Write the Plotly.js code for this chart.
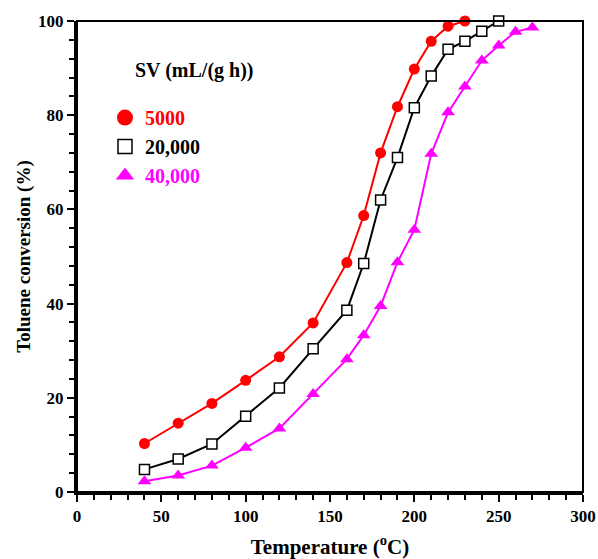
<!DOCTYPE html>
<html>
<head>
<meta charset="utf-8">
<script src="https://cdn.plot.ly/plotly-3.0.1.min.js"></script>
<style>html,body{margin:0;padding:0;background:#fff;}#chart{width:598px;height:559px;}</style>
</head>
<body>
<div id="chart"></div>
<script>
const tempSV5000 = [40, 60, 80, 100, 120, 140, 160, 170, 180, 190, 200, 210, 220, 230];
const convSV5000 = [10.3, 14.6, 18.8, 23.7, 28.7, 35.9, 48.7, 58.7, 72.0, 81.8, 89.8, 95.7, 98.9, 100];
const tempSV20000 = [40, 60, 80, 100, 120, 140, 160, 170, 180, 190, 200, 210, 220, 230, 240, 250];
const convSV20000 = [4.8, 7.0, 10.2, 16.1, 22.1, 30.4, 38.6, 48.5, 62.0, 71.0, 81.6, 88.3, 94.0, 95.7, 97.8, 100];
const tempSV40000 = [40, 60, 80, 100, 120, 140, 160, 170, 180, 190, 200, 210, 220, 230, 240, 250, 260, 270];
const convSV40000 = [2.3, 3.5, 5.6, 9.4, 13.5, 20.8, 28.2, 33.3, 39.5, 48.8, 55.7, 71.8, 80.6, 86.1, 91.6, 94.8, 97.7, 98.6];
const seriesNames = ['5000', '20,000', '40,000'];
const legendTitle = 'SV (mL/(g h))';
const xTitle = 'Temperature (<sup>o</sup>C)';
const yTitle = 'Toluene conversion (%)';

const FONT = 'Times New Roman, Liberation Serif, serif';
const RED = '#FF0000', BLACK = '#000000', MAG = '#FF00FF';

const traces = [
  {x: tempSV5000, y: convSV5000, mode: 'lines+markers', showlegend: false, cliponaxis: false,
   line: {color: RED, width: 2}, marker: {symbol: 'circle', size: 11, color: RED}},
  {x: tempSV20000, y: convSV20000, mode: 'lines+markers', showlegend: false, cliponaxis: false,
   line: {color: BLACK, width: 2}, marker: {symbol: 'square', size: 10, color: '#FFFFFF', line: {color: BLACK, width: 1.5}}},
  {x: tempSV40000, y: convSV40000, mode: 'lines+markers', showlegend: false, cliponaxis: false,
   line: {color: MAG, width: 2}, marker: {symbol: 'triangle-up', size: 12, color: MAG}},
  // legend entries
  {x: [null], y: [null], mode: 'markers', name: '<span style="color:' + RED + '">' + seriesNames[0] + '</span>', legendgroup: 'a',
   marker: {symbol: 'circle', size: 16, color: RED}},
  {x: [null], y: [null], mode: 'markers', name: '<span style="color:' + BLACK + '">' + seriesNames[1] + '</span>', legendgroup: 'b',
   marker: {symbol: 'square', size: 14, color: '#FFFFFF', line: {color: BLACK, width: 1.5}}},
  {x: [null], y: [null], mode: 'markers', name: '<span style="color:' + MAG + '">' + seriesNames[2] + '</span>', legendgroup: 'c',
   marker: {symbol: 'triangle-up', size: 17, color: MAG}}
];

const axisCommon = {
  showline: true, linewidth: 3, linecolor: BLACK, zeroline: false, showgrid: false,
  ticks: 'outside', ticklen: 7, tickwidth: 2, tickcolor: BLACK,
  tickfont: {family: FONT, size: 17, weight: 'bold', color: BLACK}
};

const layout = {
  width: 598, height: 559,
  margin: {l: 77, r: 15, t: 21, b: 67},
  paper_bgcolor: '#FFFFFF', plot_bgcolor: '#FFFFFF',
  font: {family: FONT, color: BLACK},
  xaxis: Object.assign({}, axisCommon, {
    range: [0, 300], tick0: 0, dtick: 50,
    minor: {dtick: 10, ticks: 'outside', ticklen: 5, tickwidth: 2, tickcolor: BLACK, showgrid: false},
    title: {text: xTitle, font: {family: FONT, size: 21, weight: 'bold', color: BLACK}, standoff: 16}
  }),
  yaxis: Object.assign({}, axisCommon, {
    range: [0, 100], tick0: 0, dtick: 20,
    minor: {dtick: 4, ticks: 'outside', ticklen: 5, tickwidth: 2, tickcolor: BLACK, showgrid: false},
    title: {text: yTitle, font: {family: FONT, size: 19, weight: 'bold', color: BLACK}, standoff: 3}
  }),
  showlegend: true,
  legend: {
    x: 0.0553, y: 0.8364, xanchor: 'left', yanchor: 'top',
    bgcolor: 'rgba(0,0,0,0)', borderwidth: 0,
    traceorder: 'grouped', tracegroupgap: 0,
    font: {family: FONT, size: 20, weight: 'bold', color: BLACK}
  },
  annotations: [{
    xref: 'paper', yref: 'paper', x: 0.1107, y: 0.894, xanchor: 'left', yanchor: 'middle',
    text: legendTitle, showarrow: false,
    font: {family: FONT, size: 20, weight: 'bold', color: BLACK}
  }],
  shapes: [{
    type: 'rect', xref: 'paper', yref: 'paper', x0: 0, y0: 0, x1: 1, y1: 1,
    line: {color: BLACK, width: 2}, layer: 'above'
  }]
};

Plotly.newPlot('chart', traces, layout, {displayModeBar: false, staticPlot: true});
</script>
</body>
</html>
